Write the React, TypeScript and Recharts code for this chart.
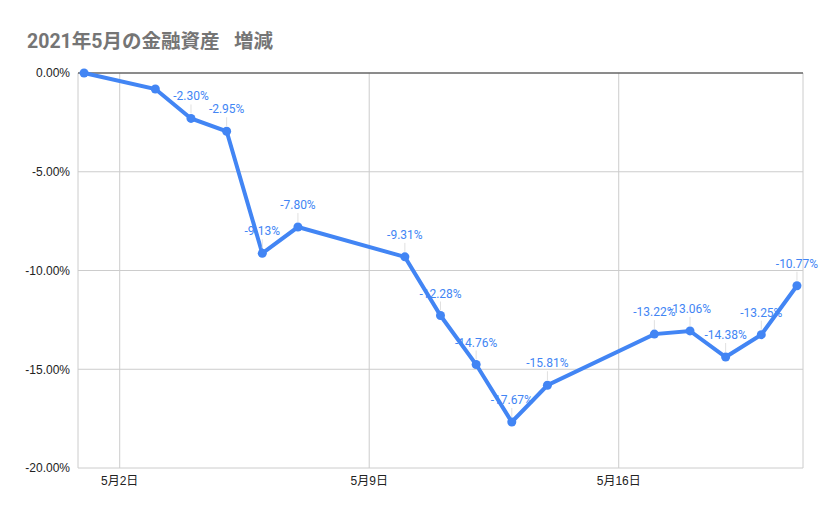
import {
  LineChart,
  Line,
  XAxis,
  YAxis,
  CartesianGrid,
  ReferenceLine,
  LabelList,
} from "recharts";

// 2021年5月の日付（日）と増減率（%）
const DAYS = [1, 3, 4, 5, 6, 7, 10, 11, 12, 13, 14, 17, 18, 19, 20, 21];
const VALUES = [
  0, -0.81, -2.3, -2.95, -9.13, -7.8, -9.31, -12.28, -14.76, -17.67, -15.81,
  -13.22, -13.06, -14.38, -13.25, -10.77,
];
// ラベルを表示する点（先頭2点は非表示）
const SHOW_LABEL = [
  false, false, true, true, true, true, true, true, true, true, true, true,
  true, true, true, true,
];
const X_TICKS = [2, 9, 16];
const Y_TICKS = [0, -5, -10, -15, -20];

const BLUE = "#4285f4";
const TICK_FONT = "Arial, 'Liberation Sans', 'Noto Sans CJK JP', sans-serif";

const data = DAYS.map((day, i) => ({
  day,
  value: VALUES[i],
  show: SHOW_LABEL[i],
}));

// eslint-disable-next-line @typescript-eslint/no-explicit-any
function PointLabel(props: any) {
  const { x, y, value, index } = props;
  if (!SHOW_LABEL[index]) return null;
  return (
    <g>
      <line x1={x} x2={x} y1={y - 14} y2={y - 5} stroke="#e0e0e0" strokeWidth={1} />
      <text
        x={x}
        y={y - 18}
        textAnchor="middle"
        fill={BLUE}
        fontSize={12}
        fontFamily="Roboto, Arial, sans-serif"
      >
        {`${Number(value).toFixed(2)}%`}
      </text>
    </g>
  );
}

export default function App() {
  return (
    <div
      style={{
        position: "absolute",
        left: 0,
        top: 0,
        width: 829,
        height: 514,
        background: "#fff",
      }}
    >
      <div
        style={{
          position: "absolute",
          left: 27,
          top: 25,
          fontFamily: "Roboto, Arial, 'Noto Sans CJK JP', sans-serif",
          fontWeight: "bold",
          fontSize: 19.5,
          color: "#757575",
          whiteSpace: "pre",
        }}
      >
        {"2021年5月の金融資産   増減"}
      </div>
      <LineChart
        width={829}
        height={514}
        data={data}
        margin={{ top: 73, right: 26, bottom: 16, left: 0 }}
      >
        <CartesianGrid stroke="#cccccc" />
        <XAxis
          dataKey="day"
          type="number"
          domain={[0.83, 21.17]}
          ticks={X_TICKS}
          tickFormatter={(d) => `5月${d}日`}
          axisLine={false}
          tickLine={false}
          height={30}
          tick={{ fontSize: 12, fill: "#222", fontFamily: TICK_FONT }}
          allowDataOverflow
        />
        <YAxis
          type="number"
          domain={[-20, 0]}
          ticks={Y_TICKS}
          tickFormatter={(v) => `${Number(v).toFixed(2)}%`}
          axisLine={false}
          tickLine={false}
          width={78}
          tick={{ fontSize: 12, fill: "#222", fontFamily: TICK_FONT }}
        />
        <ReferenceLine y={0} stroke="#333333" strokeWidth={1} />
        <Line
          type="linear"
          dataKey="value"
          stroke={BLUE}
          strokeWidth={4}
          dot={{ r: 4.5, fill: BLUE, stroke: BLUE, strokeWidth: 0 }}
          activeDot={false}
          isAnimationActive={false}
        >
          <LabelList dataKey="value" content={<PointLabel />} />
        </Line>
      </LineChart>
    </div>
  );
}
